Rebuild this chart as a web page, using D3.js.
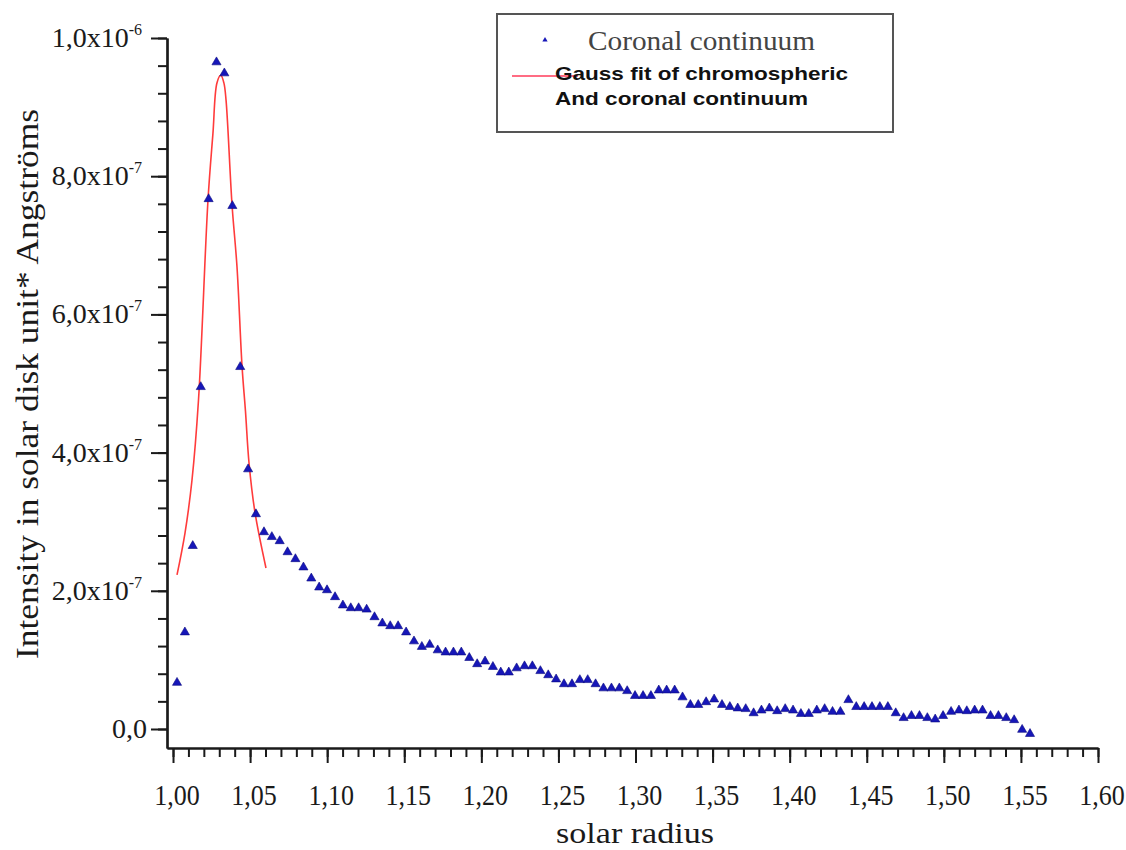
<!DOCTYPE html>
<html>
<head>
<meta charset="utf-8">
<script src="https://cdn.jsdelivr.net/npm/d3@7"></script>
<style>
  body { margin: 0; background: #fff; }
  svg { display: block; }
</style>
</head>
<body>
<svg id="chart" width="1126" height="850"></svg>
<script>
// ---------- DATA ----------
// solar radius (x) of each measured coronal continuum point
const solarRadius = [
  1.0026,1.0077,1.0128,1.0180,1.0231,1.0282,1.0333,1.0385,1.0436,1.0487,
  1.0538,1.0590,1.0641,1.0692,1.0743,1.0794,1.0846,1.0897,1.0948,1.0999,
  1.1051,1.1102,1.1153,1.1204,1.1256,1.1307,1.1358,1.1409,1.1460,1.1512,
  1.1563,1.1614,1.1665,1.1717,1.1768,1.1819,1.1870,1.1922,1.1973,1.2024,
  1.2075,1.2126,1.2178,1.2229,1.2280,1.2331,1.2383,1.2434,1.2485,1.2536,
  1.2588,1.2639,1.2690,1.2741,1.2792,1.2844,1.2895,1.2946,1.2997,1.3049,
  1.3100,1.3151,1.3202,1.3254,1.3305,1.3356,1.3407,1.3458,1.3510,1.3561,
  1.3612,1.3663,1.3715,1.3766,1.3817,1.3868,1.3919,1.3971,1.4022,1.4073,
  1.4124,1.4176,1.4227,1.4278,1.4329,1.4381,1.4432,1.4483,1.4534,1.4585,
  1.4637,1.4688,1.4739,1.4790,1.4842,1.4893,1.4944,1.4995,1.5047,1.5098,
  1.5149,1.5200,1.5251,1.5303,1.5354,1.5405,1.5456,1.5508,1.5559
];
// coronal continuum intensity, in units of 1e-7 (solar disk unit * Angstroms)
const coronalContinuum = [
  0.67,1.40,2.65,4.95,7.67,9.65,9.49,7.57,5.24,3.76,
  3.11,2.85,2.78,2.72,2.56,2.46,2.34,2.18,2.05,2.01,
  1.91,1.79,1.75,1.75,1.73,1.62,1.53,1.49,1.49,1.40,
  1.27,1.19,1.22,1.14,1.11,1.11,1.11,1.03,0.94,0.98,
  0.90,0.82,0.82,0.88,0.91,0.91,0.84,0.78,0.72,0.65,
  0.65,0.71,0.71,0.65,0.59,0.59,0.59,0.55,0.48,0.48,
  0.48,0.56,0.56,0.56,0.46,0.35,0.35,0.39,0.43,0.35,
  0.32,0.30,0.29,0.23,0.27,0.30,0.26,0.29,0.27,0.22,
  0.22,0.27,0.29,0.25,0.25,0.42,0.32,0.32,0.32,0.32,
  0.32,0.23,0.16,0.19,0.19,0.16,0.14,0.19,0.25,0.27,
  0.26,0.27,0.27,0.19,0.19,0.16,0.13,-0.01,-0.07
];
// Gauss fit curve
const fitRadius = [1.0026,1.0078,1.0123,1.0165,1.0227,1.0259,1.0285,1.0310,1.0330,1.0344,1.0383,1.0415,1.0448,1.0470,1.0493,1.0532,1.0603];
const fitIntensity = [2.23,2.84,3.60,4.75,7.66,8.62,9.35,9.46,9.35,9.10,7.58,6.69,5.24,4.60,3.85,3.13,2.33];

const xTickValues = [1.00,1.05,1.10,1.15,1.20,1.25,1.30,1.35,1.40,1.45,1.50,1.55,1.60];
const xTickLabels = ["1,00","1,05","1,10","1,15","1,20","1,25","1,30","1,35","1,40","1,45","1,50","1,55","1,60"];
const yTickValues = [0,2,4,6,8,10];
const yTickMantissa = ["0,0","2,0x10","4,0x10","6,0x10","8,0x10","1,0x10"];
const yTickExponent = ["","-7","-7","-7","-7","-6"];

const xTitle = "solar radius";
const yTitle = "Intensity in solar disk unit* Angströms";
const legendPoints = "Coronal continuum";
const legendFit = ["Gauss fit of chromospheric", "And coronal continuum"];

// ---------- LAYOUT ----------
const svg = d3.select("#chart");
const x = d3.scaleLinear().domain([0.9961, 1.60]).range([167, 1098]);
const y = d3.scaleLinear().domain([-0.275, 10]).range([748, 38]);

const serif = "'Liberation Serif','Times New Roman',serif";
const sans = "'Liberation Sans',Arial,sans-serif";
const ink = "#1a1a1a";

// ---------- AXES ----------
const xMinor = d3.range(100, 161).map(v => v / 100);
const yMinor = d3.range(0, 26).map(v => v * 0.4);

function styleAxis(g) {
  g.selectAll("path").attr("stroke", ink).attr("stroke-width", 2.2);
  g.selectAll("line").attr("stroke", ink).attr("stroke-width", 2);
}

svg.append("g").attr("transform", "translate(0,748)")
  .call(d3.axisBottom(x).tickValues(xMinor).tickSize(9).tickSizeOuter(0).tickFormat(""))
  .call(styleAxis);
svg.append("g").attr("transform", "translate(0,748)")
  .call(d3.axisBottom(x).tickValues(xTickValues).tickSize(15).tickSizeOuter(0).tickFormat(""))
  .call(styleAxis);

svg.append("g").attr("transform", "translate(167,0)")
  .call(d3.axisLeft(y).tickValues(yMinor).tickSize(9).tickSizeOuter(0).tickFormat(""))
  .call(styleAxis);
svg.append("g").attr("transform", "translate(167,0)")
  .call(d3.axisLeft(y).tickValues(yTickValues).tickSize(16).tickSizeOuter(0).tickFormat(""))
  .call(styleAxis);

// x tick labels
xTickValues.forEach((v, i) => {
  svg.append("text")
    .attr("transform", `translate(${x(v) + 4},805) scale(1,1.1)`)
    .attr("text-anchor", "middle")
    .attr("font-family", serif).attr("font-size", 26).attr("fill", ink)
    .text(xTickLabels[i]);
});

// y tick labels
yTickValues.forEach((v, i) => {
  const t = svg.append("text")
    .attr("transform", `translate(${yTickExponent[i] ? 142 : 147},${y(v) + 9})`)
    .attr("text-anchor", "end")
    .attr("font-family", serif).attr("font-size", 28).attr("fill", ink);
  t.append("tspan").text(yTickMantissa[i]);
  if (yTickExponent[i]) {
    t.append("tspan").attr("font-size", 16).attr("dy", -12).text(yTickExponent[i]);
  }
});

// axis titles
svg.append("text")
  .attr("x", 635).attr("y", 843)
  .attr("text-anchor", "middle")
  .attr("font-family", serif).attr("font-size", 29).attr("fill", ink)
  .attr("textLength", 158).attr("lengthAdjust", "spacingAndGlyphs")
  .text(xTitle);

svg.append("text")
  .attr("transform", "translate(38,384) rotate(-90)")
  .attr("text-anchor", "middle")
  .attr("font-family", serif).attr("font-size", 32).attr("fill", ink)
  .attr("textLength", 550).attr("lengthAdjust", "spacingAndGlyphs")
  .text(yTitle);

// ---------- FIT CURVE ----------
const fitData = fitRadius.map((r, i) => ({ r, v: fitIntensity[i] }));
svg.append("path")
  .datum(fitData)
  .attr("fill", "none")
  .attr("stroke", "#ff3b3b")
  .attr("stroke-width", 1.6)
  .attr("d", d3.line().x(d => x(d.r)).y(d => y(d.v)).curve(d3.curveCatmullRom.alpha(0.5)));

// ---------- POINTS ----------
const pts = solarRadius.map((r, i) => ({ r, v: coronalContinuum[i] }));
const tri = d3.symbol().type(d3.symbolTriangle).size(36);
svg.append("g").selectAll("path")
  .data(pts)
  .join("path")
  .attr("transform", d => `translate(${x(d.r)},${y(d.v)})`)
  .attr("d", tri)
  .attr("fill", "#1616b8")
  .attr("stroke", "#0a0a80")
  .attr("stroke-width", 0.6);

// ---------- LEGEND ----------
const lg = svg.append("g");
lg.append("rect")
  .attr("x", 497).attr("y", 14).attr("width", 396).attr("height", 118)
  .attr("fill", "#fff").attr("stroke", "#555").attr("stroke-width", 2);
lg.append("path")
  .attr("transform", "translate(545,40)")
  .attr("d", d3.symbol().type(d3.symbolTriangle).size(12))
  .attr("fill", "#1616b8");
lg.append("text")
  .attr("x", 588).attr("y", 50)
  .attr("font-family", serif).attr("font-size", 28).attr("fill", "#444")
  .attr("textLength", 227).attr("lengthAdjust", "spacingAndGlyphs")
  .text(legendPoints);
lg.append("line")
  .attr("x1", 512).attr("x2", 578).attr("y1", 76).attr("y2", 76)
  .attr("stroke", "#ff3b5a").attr("stroke-width", 1.6);
legendFit.forEach((s, i) => {
  lg.append("text")
    .attr("x", 555).attr("y", 80 + i * 25)
    .attr("font-family", sans).attr("font-weight", "bold").attr("font-size", 19).attr("fill", "#111")
    .attr("textLength", i === 0 ? 293 : 253).attr("lengthAdjust", "spacingAndGlyphs")
    .text(s);
});
</script>
</body>
</html>
